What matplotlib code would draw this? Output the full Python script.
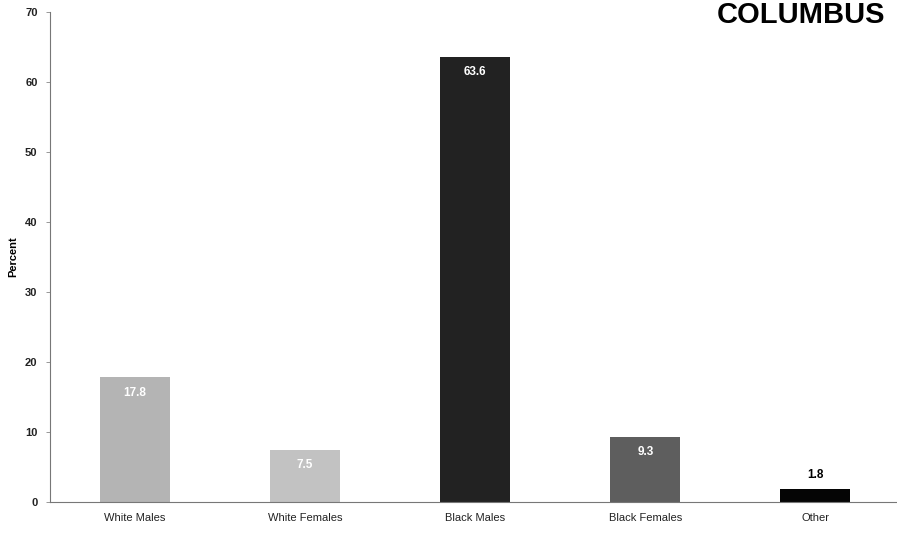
import matplotlib
matplotlib.use("Agg")
import matplotlib.pyplot as plt

categories = ["White Males", "White Females", "Black Males", "Black Females", "Other"]
values = [17.8, 7.5, 63.6, 9.3, 1.8]
labels = ["17.8", "7.5", "63.6", "9.3", "1.8"]
colors = ["#b4b4b4", "#c2c2c2", "#222222", "#5e5e5e", "#050505"]
yticks = [0, 10, 20, 30, 40, 50, 60, 70]

plt.rcParams['font.family'] = ['Liberation Sans', 'DejaVu Sans']

fig = plt.figure(figsize=(8.97, 5.33), dpi=100)
ax = fig.add_axes([50/897, 1 - 502/533, 847/897, 490/533])

x = list(range(len(categories)))
bars = ax.bar(x, values, width=0.41, color=colors, edgecolor='none')

ax.set_xlim(-0.5, 4.48)
ax.set_ylim(0, 70)
ax.set_yticks(yticks)
ax.set_yticklabels([str(t) for t in yticks], fontsize=8, fontweight='bold', color='#222222')
ax.set_xticks(x)
ax.set_xticklabels(categories, fontsize=8, color='#222222')
ax.tick_params(axis='y', length=3, width=0.6, color='#888888', pad=6)
ax.tick_params(axis='x', length=0, pad=8)
ax.set_ylabel("Percent", fontsize=8, fontweight='bold', labelpad=5)

for s in ['top', 'right']:
    ax.spines[s].set_visible(False)
for s in ['left', 'bottom']:
    ax.spines[s].set_linestyle((0, (1, 1)))
    ax.spines[s].set_color('#777777')
    ax.spines[s].set_linewidth(0.8)

for i, (v, lab) in enumerate(zip(values, labels)):
    if v > 5:
        ax.text(i, v - 1.3, lab, ha='center', va='top', fontsize=8.5,
                fontweight='bold', color='white')
    else:
        ax.text(i, v + 1.2, lab, ha='center', va='bottom', fontsize=8.5,
                fontweight='bold', color='black')

fig.text(801/897, 1 - 23/533, "COLUMBUS", ha='center', va='baseline',
         fontsize=21, fontweight='bold', color='black')

fig.savefig("out.png", dpi=100)
